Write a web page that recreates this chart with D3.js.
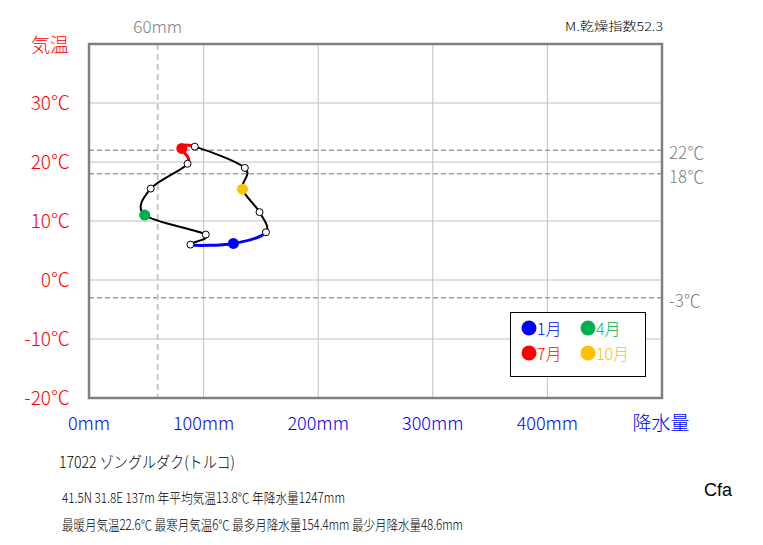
<!DOCTYPE html>
<html><head><meta charset="utf-8">
<script src="https://cdn.jsdelivr.net/npm/d3@7"></script>
<style>body{margin:0;background:#fff}svg{display:block}text{font-family:"Noto Sans CJK JP","Noto Sans",sans-serif;font-weight:300}</style>
</head><body><svg id="c" width="763" height="545"></svg>
<script>
const months = [1,2,3,4,5,6,7,8,9,10,11,12];
const precip = [126, 88.5, 101.9, 48.6, 53.9, 86, 81, 92.3, 136, 133.9, 148.8, 154.4];
const temp = [6.2, 6.0, 7.7, 11.0, 15.5, 19.7, 22.3, 22.6, 19.0, 15.4, 11.5, 8.1];
const tempTicks = [-20,-10,0,10,20,30];
const precipTicks = [0,100,200,300,400];
const refTemps = [22,18,-3];
const refPrecip = 60;
const highlight = [{m:1,label:"1月",color:"#0000ff"},{m:4,label:"4月",color:"#00b050"},{m:7,label:"7月",color:"#ff0000"},{m:10,label:"10月",color:"#ffc000"}];
const segColors = {12:"#0000ff",1:"#0000ff",6:"#ff0000",7:"#ff0000"}; // segment starting month -> color
const titleText = "17022  ゾングルダク(トルコ)";
const info1 = "41.5N  31.8E 137m  年平均気温13.8℃ 年降水量1247mm";
const info2 = "最暖月気温22.6℃ 最寒月気温6℃ 最多月降水量154.4mm 最少月降水量48.6mm";
const indexText = "M.乾燥指数52.3";
const climate = "Cfa";

const svg = d3.select("#c");
const L=89, R=662, T=44, B=398;
const x = d3.scaleLinear().domain([0,500]).range([L,R]);
const y = d3.scaleLinear().domain([-20,40]).range([B,T]);

// grid
svg.selectAll(".vg").data(precipTicks.filter(d=>d>0)).enter().append("line")
  .attr("x1",d=>x(d)).attr("x2",d=>x(d)).attr("y1",T).attr("y2",B).attr("stroke","#c0c0c0").attr("stroke-width",1);
svg.selectAll(".hg").data(tempTicks.filter(d=>d>-20)).enter().append("line")
  .attr("x1",L).attr("x2",R).attr("y1",d=>y(d)).attr("y2",d=>y(d)).attr("stroke","#c0c0c0").attr("stroke-width",1);
// ref dashed
svg.selectAll(".rt").data(refTemps).enter().append("line")
  .attr("x1",L).attr("x2",R).attr("y1",d=>y(d)).attr("y2",d=>y(d))
  .attr("stroke","#a0a0a0").attr("stroke-width",1.5).attr("stroke-dasharray","5,3");
svg.append("line").attr("x1",x(refPrecip)).attr("x2",x(refPrecip)).attr("y1",T).attr("y2",B)
  .attr("stroke","#c8c8c8").attr("stroke-width",2).attr("stroke-dasharray","6,4");
// border
svg.append("rect").attr("x",L).attr("y",T).attr("width",R-L).attr("height",B-T)
  .attr("fill","none").attr("stroke","#808080").attr("stroke-width",2.5);

// labels
svg.selectAll(".tl").data(tempTicks).enter().append("text")
  .attr("x",70).attr("y",d=>y(d)+7).attr("text-anchor","end").attr("fill","#ff0000")
  .attr("font-size",19).text(d=>d+"℃");
svg.append("text").attr("x",50).attr("y",52).attr("text-anchor","middle").attr("fill","#ff0000").attr("font-size",19).text("気温");
svg.selectAll(".pl").data(precipTicks).enter().append("text")
  .attr("x",d=>x(d)).attr("y",430).attr("text-anchor","middle").attr("fill","#0000ff")
  .attr("font-size",18).text(d=>d+"mm");
svg.append("text").attr("x",661).attr("y",430).attr("text-anchor","middle").attr("fill","#0000ff").attr("font-size",19).text("降水量");
svg.append("text").attr("x",x(refPrecip)).attr("y",33).attr("text-anchor","middle").attr("fill","#808080").attr("font-size",17).text(refPrecip+"mm");
svg.selectAll(".rl").data(refTemps).enter().append("text")
  .attr("x",669).attr("y",d=>y(d)+9).attr("fill","#808080").attr("font-size",17).text(d=>d+"℃");
svg.append("text").attr("x",565).attr("y",31).attr("fill","#000").attr("font-size",12).attr("textLength",98).attr("lengthAdjust","spacingAndGlyphs").text(indexText);

// curve segments (Catmull-Rom uniform, closed)
const pts = months.map((m,i)=>[x(precip[i]),y(temp[i])]);
const n = pts.length;
for(let i=0;i<n;i++){
  const p0=pts[(i-1+n)%n], p1=pts[i], p2=pts[(i+1)%n], p3=pts[(i+2)%n];
  const c1=[p1[0]+(p2[0]-p0[0])/6, p1[1]+(p2[1]-p0[1])/6];
  const c2=[p2[0]-(p3[0]-p1[0])/6, p2[1]-(p3[1]-p1[1])/6];
  const col = segColors[months[i]] || "#000";
  svg.append("path").attr("d",`M${p1[0]},${p1[1]}C${c1[0]},${c1[1]} ${c2[0]},${c2[1]} ${p2[0]},${p2[1]}`)
    .attr("fill","none").attr("stroke",col).attr("stroke-width",col==="#000"?2:3);
}
const hl = new Map(highlight.map(h=>[h.m,h]));
svg.selectAll(".pt").data(months).enter().append("circle")
  .attr("cx",(d,i)=>x(precip[i])).attr("cy",(d,i)=>y(temp[i]))
  .attr("r",d=>hl.has(d)?5.5:3.5)
  .attr("fill",d=>hl.has(d)?hl.get(d).color:"#fff")
  .attr("stroke",d=>hl.has(d)?"none":"#000").attr("stroke-width",1);

// legend
svg.append("rect").attr("x",510.5).attr("y",312.5).attr("width",135).attr("height",64).attr("fill","#fff").attr("stroke","#000").attr("stroke-width",1);
highlight.forEach((h,i)=>{
  const lx = 529 + (i%2)*59, ly = 328 + Math.floor(i/2)*25;
  svg.append("circle").attr("cx",lx).attr("cy",ly).attr("r",7.5).attr("fill",h.color);
  svg.append("text").attr("x",lx+8).attr("y",ly+7).attr("fill",h.color).attr("font-size",16).text(h.label);
});

// footer text
svg.append("text").attr("x",59).attr("y",468).attr("font-size",16).attr("fill","#000").attr("textLength",176).attr("lengthAdjust","spacingAndGlyphs").text(titleText);
svg.append("text").attr("x",62).attr("y",503).attr("font-size",14).attr("fill","#000").attr("textLength",283).attr("lengthAdjust","spacingAndGlyphs").text(info1);
svg.append("text").attr("x",62).attr("y",530).attr("font-size",14).attr("fill","#000").attr("textLength",401).attr("lengthAdjust","spacingAndGlyphs").text(info2);
svg.append("text").attr("x",704).attr("y",496).attr("font-size",18).attr("fill","#000").style("font-family","Arial, 'Liberation Sans', sans-serif").style("font-weight","400").text(climate);
</script></body></html>
